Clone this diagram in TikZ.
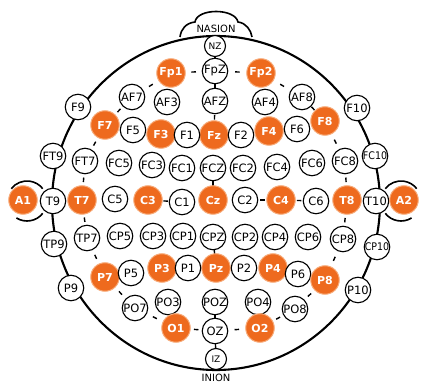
\documentclass[tikz,border=0pt]{standalone}
\usepackage{fontspec}
\setmainfont{DejaVu Sans}
\newfontfamily\condfont{DejaVu Sans Condensed}
\usetikzlibrary{backgrounds}
\definecolor{eorange}{RGB}{238,106,30}
\definecolor{ehalo}{RGB}{247,170,120}
\begin{document}
\begin{tikzpicture}[x=1pt,y=-1pt,
  el/.style={circle,draw=black,line width=1.1pt,fill=white,minimum size=25.5pt,inner sep=0pt,font=\fontsize{11.5}{11.5}\selectfont},
  eo/.style={circle,draw=ehalo,line width=1pt,fill=eorange,minimum size=28.5pt,inner sep=0pt,text=white,font=\bfseries\fontsize{11}{11}\selectfont},
  es/.style={el,minimum size=21pt,font=\fontsize{9}{9}\selectfont},
  ec/.style={el,font=\condfont\fontsize{10.5}{10.5}\selectfont},
  gapdash/.style={sloped,midway,inner sep=0pt},
  head/.style={line width=2.1pt},
  ear/.style={line width=1.6pt},
  lbl/.style={font=\fontsize{10}{10}\selectfont,inner sep=0pt}]
\useasboundingbox (0,0) rectangle (421,385);
% midline
\node[es] (NZ) at (215,46) {NZ};
\node[el] (FpZ) at (215,71) {FpZ};
\node[el] (AFZ) at (215,101) {AFZ};
\node[eo] (Fz) at (214,135) {Fz};
\node[el] (FCZ) at (213,168) {FCZ};
\node[eo] (Cz) at (213,200) {Cz};
\node[el] (CPZ) at (213,237) {CPZ};
\node[eo] (Pz) at (216,268) {Pz};
\node[el] (POZ) at (215,302) {POZ};
\node[el] (OZ) at (215,331) {OZ};
\node[es] (IZ) at (216,359) {IZ};
% Fp / AF
\node[eo] (Fp1) at (171,73) {Fp1};
\node[eo] (Fp2) at (261,73) {Fp2};
\node[el] (AF7) at (132,97) {AF7};
\node[el] (AF3) at (167,102) {AF3};
\node[el] (AF4) at (265,102) {AF4};
\node[el] (AF8) at (302,97) {AF8};
% F row
\node[el] (F9) at (78,107) {F9};
\node[eo] (F7) at (105,125) {F7};
\node[el] (F5) at (133,130) {F5};
\node[eo] (F3) at (161,134) {F3};
\node[el] (F1) at (187,135) {F1};
\node[el] (F2) at (241,135) {F2};
\node[eo] (F4) at (269,131) {F4};
\node[el] (F6) at (297,129) {F6};
\node[eo] (F8) at (325,121) {F8};
\node[el] (F10) at (357,108) {F10};
% FC row
\node[el] (FT9) at (53,156) {FT9};
\node[el] (FT7) at (85,161) {FT7};
\node[el] (FC5) at (119,163) {FC5};
\node[el] (FC3) at (152,165) {FC3};
\node[el] (FC1) at (182,168) {FC1};
\node[el] (FC2) at (243,168) {FC2};
\node[el] (FC4) at (277,167) {FC4};
\node[el] (FC6) at (312,163) {FC6};
\node[el] (FC8) at (345,161) {FC8};
\node[ec] (FC10) at (375,156) {FC10};
% C row
\node[eo] (A1) at (23,200) {A1};
\node[el] (T9) at (53,201) {T9};
\node[eo] (T7) at (82,200) {T7};
\node[el] (C5) at (115,199) {C5};
\node[eo] (C3) at (148,200) {C3};
\node[el] (C1) at (182,202) {C1};
\node[el] (C2) at (245,200) {C2};
\node[eo] (C4) at (281,200) {C4};
\node[el] (C6) at (316,201) {C6};
\node[eo] (T8) at (347,200) {T8};
\node[el] (T10) at (376,201) {T10};
\node[eo] (A2) at (404,200) {A2};
% CP row
\node[el] (TP9) at (54,244) {TP9};
\node[el] (TP7) at (87,238) {TP7};
\node[el] (CP5) at (120,236) {CP5};
\node[el] (CP3) at (153,236) {CP3};
\node[el] (CP1) at (183,236) {CP1};
\node[el] (CP2) at (245,237) {CP2};
\node[el] (CP4) at (275,237) {CP4};
\node[el] (CP6) at (308,237) {CP6};
\node[el] (CP8) at (343,239) {CP8};
\node[ec] (CP10) at (377,247) {CP10};
% P row
\node[el] (P9) at (71,288) {P9};
\node[eo] (P7) at (105,277) {P7};
\node[el] (P5) at (131,273) {P5};
\node[eo] (P3) at (162,268) {P3};
\node[el] (P1) at (188,268) {P1};
\node[el] (P2) at (244,268) {P2};
\node[eo] (P4) at (273,268) {P4};
\node[el] (P6) at (298,274) {P6};
\node[eo] (P8) at (325,280) {P8};
\node[el] (P10) at (358,290) {P10};
% PO / O
\node[el] (PO7) at (135,308) {PO7};
\node[el] (PO3) at (168,302) {PO3};
\node[el] (PO4) at (258,302) {PO4};
\node[el] (PO8) at (295,309) {PO8};
\node[eo] (O1) at (176,328) {O1};
\node[eo] (O2) at (260,328) {O2};
% labels
\node[lbl] (nasion) at (216,29) {NASION};
\node[lbl] (inion) at (216,378) {INION};
\begin{scope}[on background layer]
  \draw[head] (216,203) ellipse [x radius=164, y radius=167];
  \draw[ear] (180,37) .. controls (181,29) and (186,23) .. (195,22)
     .. controls (197,8) and (235,8) .. (238,22)
     .. controls (246,23) and (251,30) .. (252,37);
  % ears
  \draw[ear] (27,201) ++(218:20) arc[start angle=218,end angle=322,radius=20];
  \draw[ear] (27,201) ++(122:20) arc[start angle=122,end angle=38,radius=20];
  \draw[ear] (401,201) ++(218:20) arc[start angle=218,end angle=322,radius=20];
  \draw[ear] (401,201) ++(58:20) arc[start angle=58,end angle=142,radius=20];
  % short dashes in the gaps between neighbouring electrodes
  \foreach \a/\b in {NZ/FpZ,FpZ/AFZ,AFZ/Fz,FCZ/Cz,CPZ/Pz,POZ/OZ,OZ/IZ,
    Fp1/FpZ,FpZ/Fp2,Fp1/AF7,Fp2/AF8,AF7/F7,AF8/F8,F7/FT7,F8/FC8,FT7/T7,FC8/T8,
    T7/TP7,T8/CP8,TP7/P7,CP8/P8,P7/PO7,P8/PO8,PO7/O1,PO8/O2,O1/OZ,OZ/O2,
    C3/C1,C2/C4,C4/C6}
    \path (\a) -- node[gapdash]{\rule{4.5pt}{1.4pt}} (\b);
\end{scope}
\end{tikzpicture}
\end{document}
